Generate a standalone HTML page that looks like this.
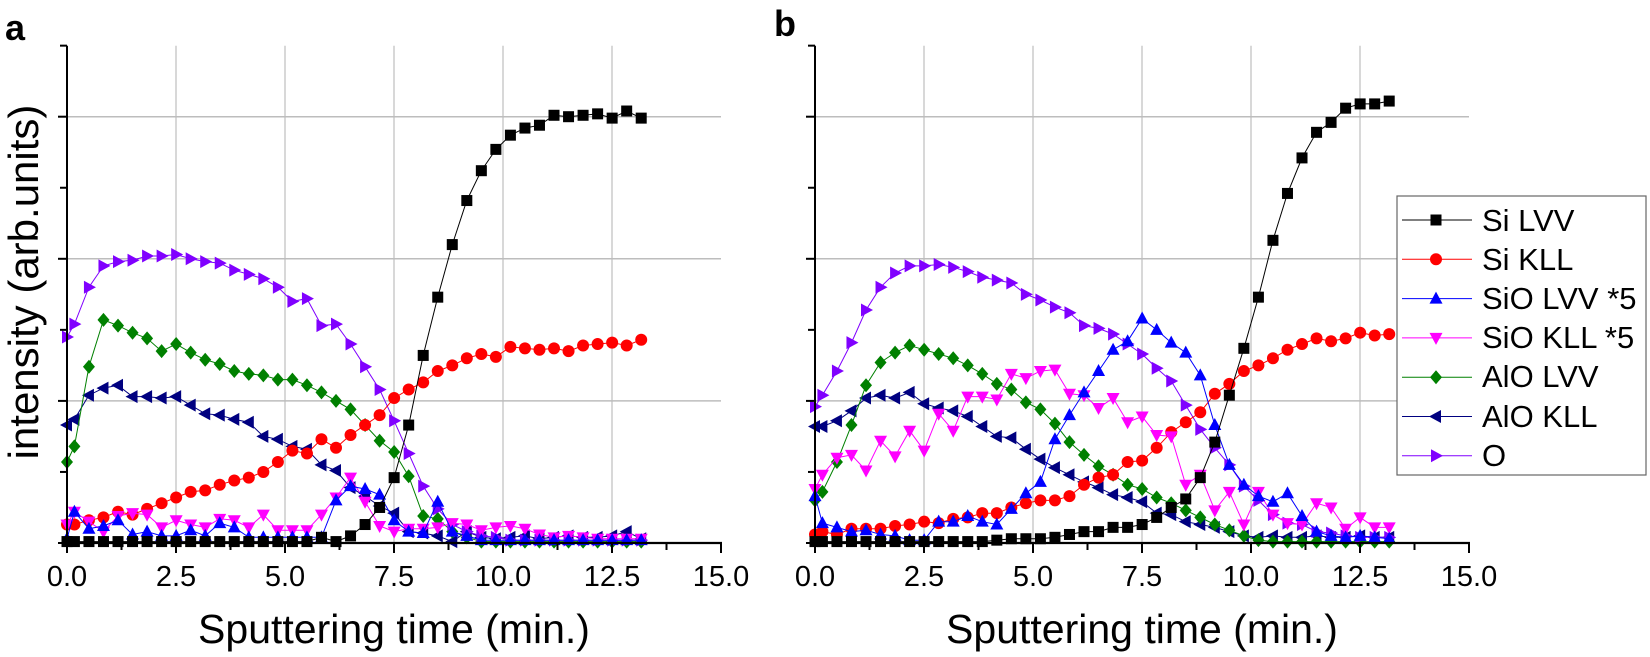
<!DOCTYPE html>
<html><head><meta charset="utf-8"><style>
html,body{margin:0;padding:0;background:#fff;overflow:hidden;}
svg{display:block;font-family:"Liberation Sans",Arial,sans-serif;}
</style></head><body>
<svg id="s" width="1650" height="657" viewBox="0 0 1650 657" xmlns="http://www.w3.org/2000/svg">
<g id="grid"></g>
<g id="data"></g>
<g id="axes"></g>
<text x="5" y="40" font-size="36" font-weight="bold">a</text>
<text x="774" y="36" font-size="36" font-weight="bold">b</text>
<text transform="translate(38,282) rotate(-90)" text-anchor="middle" font-size="42">intensity (arb.units)</text>
<text x="394" y="643" text-anchor="middle" font-size="41">Sputtering time (min.)</text>
<text x="1142" y="643" text-anchor="middle" font-size="41">Sputtering time (min.)</text>
<g font-size="29" text-anchor="middle">
<text x="67" y="586">0.0</text><text x="176" y="586">2.5</text><text x="285" y="586">5.0</text><text x="394" y="586">7.5</text><text x="503" y="586">10.0</text><text x="612" y="586">12.5</text><text x="721" y="586">15.0</text>
<text x="815" y="586">0.0</text><text x="924" y="586">2.5</text><text x="1033" y="586">5.0</text><text x="1142" y="586">7.5</text><text x="1251" y="586">10.0</text><text x="1360" y="586">12.5</text><text x="1469" y="586">15.0</text>
</g>
<g id="legend">
<rect x="1397" y="196" width="249" height="279" fill="#fff" stroke="#666" stroke-width="1.2"/>
<g font-size="31">
<text x="1482" y="231">Si LVV</text>
<text x="1482" y="270">Si KLL</text>
<text x="1482" y="309">SiO LVV *5</text>
<text x="1482" y="348">SiO KLL *5</text>
<text x="1482" y="387">AlO LVV</text>
<text x="1482" y="427">AlO KLL</text>
<text x="1482" y="466">O</text>
</g>
</g>
<g id="legm"></g>
</svg>
<script>
var NS="http://www.w3.org/2000/svg";
function el(p,n,a){var e=document.createElementNS(NS,n);for(var k in a)e.setAttribute(k,a[k]);p.appendChild(e);return e;}
var T=[0];for(var i=0;i<40;i++)T.push(0.17+i/3);
var grid=document.getElementById('grid'),axes=document.getElementById('axes'),data=document.getElementById('data');
function Yv(v){return 543-142.1*v;}
[67,815].forEach(function(x0){
  for(var k=1;k<=5;k++){var x=x0+109*k;el(grid,'line',{x1:x,y1:45.7,x2:x,y2:543,stroke:'#bdbdbd','stroke-width':1.2});}
  for(var k=1;k<=3;k++){var y=Yv(k);el(grid,'line',{x1:x0,y1:y,x2:x0+654,y2:y,stroke:'#bdbdbd','stroke-width':1.5});}
  el(axes,'line',{x1:x0,y1:45.7,x2:x0,y2:544,stroke:'#000','stroke-width':2});
  el(axes,'line',{x1:x0-1,y1:543,x2:x0+655,y2:543,stroke:'#000','stroke-width':2.2});
  for(var k=0;k<=12;k++){var x=x0+54.5*k;el(axes,'line',{x1:x,y1:543,x2:x,y2:k%2?550:553,stroke:'#000','stroke-width':2});}
  for(var k=0;k<=7;k++){var y=543-71.05*k;el(axes,'line',{x1:x0,y1:y,x2:x0-(k%2?7:9),y2:y,stroke:'#000','stroke-width':2});}
});
function marker(g,type,x,y,c){
  if(type=='sq')el(g,'rect',{x:x-5.5,y:y-5.5,width:11,height:11,fill:c});
  else if(type=='ci')el(g,'circle',{cx:x,cy:y,r:6,fill:c});
  else{var p;
    if(type=='up')p=[[x,y-7],[x+6.5,y+5],[x-6.5,y+5]];
    else if(type=='dn')p=[[x,y+7],[x+6.5,y-5],[x-6.5,y-5]];
    else if(type=='lt')p=[[x-7,y],[x+5,y-6.5],[x+5,y+6.5]];
    else if(type=='rt')p=[[x+7,y],[x-5,y-6.5],[x-5,y+6.5]];
    else if(type=='di')p=[[x,y-7],[x+6,y],[x,y+7],[x-6,y]];
    el(g,'polygon',{points:p.map(function(q){return q.join(',')}).join(' '),fill:c});}
}
function z(n,v){var a=[];for(var i=0;i<n;i++)a.push(v);return a;}
var S={
a:{
si:z(18,0.01).concat([0.04,0.01,0.05,0.13,0.25,0.46,0.83,1.32,1.73,2.10,2.41,2.62,2.77,2.87,2.92,2.94,3.01,3.0,3.01,3.02,2.99,3.04,2.99]),
sik:[0.13,0.13,0.16,0.18,0.22,0.2,0.24,0.28,0.32,0.36,0.37,0.41,0.44,0.46,0.5,0.57,0.65,0.63,0.73,0.67,0.76,0.83,0.9,1.02,1.08,1.13,1.21,1.25,1.30,1.33,1.31,1.38,1.37,1.36,1.37,1.35,1.39,1.40,1.41,1.39,1.43],
siol:[0.03,0.22,0.1,0.12,0.16,0.06,0.08,0.05,0.05,0.09,0.05,0.14,0.11,0.04,0.04,0.04,0.04,0.04,0.04,0.3,0.4,0.38,0.34,0.16,0.08,0.07,0.29,0.08,0.05].concat(z(12,0.02)),
siok:[0.13,0.22,0.15,0.08,0.19,0.21,0.2,0.11,0.16,0.13,0.11,0.17,0.16,0.11,0.2,0.09,0.09,0.09,0.2,0.32,0.46,0.29,0.12,0.08,0.1,0.1,0.11,0.14,0.13,0.09,0.11,0.12,0.1,0.06,0.04,0.05,0.04,0.03,0.03,0.03,0.03],
alol:[0.57,0.68,1.24,1.57,1.53,1.48,1.44,1.35,1.40,1.34,1.29,1.26,1.21,1.19,1.18,1.15,1.15,1.11,1.06,1.0,0.94,0.83,0.72,0.64,0.47,0.19,0.17,0.08,0.04].concat(z(12,0.01)),
alok:[0.83,0.87,1.04,1.09,1.11,1.03,1.03,1.02,1.03,0.97,0.91,0.90,0.87,0.85,0.75,0.73,0.68,0.66,0.55,0.51,0.39,0.33,0.26,0.21,0.08,0.07,0.05,0.01,0.08,0.04,0.03,0.04,0.05,0.03,0.04,0.05,0.04,0.04,0.05,0.08,0.03],
o:[1.45,1.54,1.80,1.95,1.98,1.99,2.02,2.02,2.03,2.0,1.98,1.97,1.92,1.89,1.86,1.80,1.70,1.72,1.53,1.54,1.40,1.24,1.08,0.86,0.63,0.40,0.24,0.13,0.08,0.05,0.04].concat(z(10,0.02))
},
b:{
si:z(13,0.01).concat([0.02,0.03,0.03,0.03,0.04,0.06,0.08,0.08,0.11,0.11,0.13,0.18,0.25,0.31,0.46,0.71,1.04,1.37,1.73,2.13,2.46,2.71,2.89,2.96,3.06,3.09,3.09,3.11]),
sik:[0.06,0.08,0.06,0.1,0.1,0.1,0.12,0.13,0.15,0.14,0.17,0.18,0.21,0.21,0.25,0.28,0.30,0.30,0.33,0.41,0.46,0.48,0.57,0.58,0.67,0.78,0.85,0.92,1.05,1.12,1.21,1.25,1.30,1.36,1.40,1.44,1.42,1.44,1.48,1.46,1.47],
siol:[0.33,0.14,0.11,0.08,0.09,0.06,0.05,0.02,0.02,0.15,0.15,0.19,0.15,0.13,0.24,0.35,0.43,0.73,0.9,1.06,1.21,1.36,1.42,1.58,1.50,1.41,1.34,1.18,0.83,0.55,0.41,0.33,0.29,0.35,0.19,0.08,0.05,0.04,0.05,0.04,0.03],
siok:[0.38,0.48,0.6,0.62,0.51,0.72,0.61,0.79,0.65,0.91,0.79,1.03,1.03,1.01,1.19,1.16,1.21,1.22,1.05,1.04,0.95,1.02,0.85,0.89,0.76,0.75,0.41,0.48,0.23,0.36,0.13,0.36,0.2,0.14,0.13,0.28,0.25,0.1,0.18,0.11,0.11],
alol:[0.3,0.36,0.57,0.83,1.11,1.27,1.34,1.39,1.36,1.33,1.30,1.25,1.19,1.12,1.08,0.99,0.94,0.84,0.71,0.62,0.54,0.48,0.41,0.38,0.32,0.28,0.23,0.18,0.13,0.09,0.05,0.02].concat(z(9,0.01)),
alok:[0.82,0.82,0.86,0.93,1.02,1.04,1.02,1.06,0.98,0.95,0.93,0.89,0.82,0.75,0.74,0.66,0.59,0.53,0.48,0.43,0.39,0.34,0.32,0.29,0.21,0.20,0.15,0.13,0.11,0.08,0.05,0.04,0.05,0.04,0.04,0.05,0.04,0.04,0.05,0.04,0.04],
o:[0.96,1.04,1.21,1.41,1.64,1.80,1.90,1.95,1.95,1.96,1.94,1.91,1.87,1.85,1.83,1.75,1.71,1.66,1.62,1.53,1.51,1.47,1.40,1.33,1.23,1.14,0.97,0.80,0.67,0.55,0.40,0.3,0.2,0.14,0.13,0.08,0.07,0.05,0.04,0.04,0.04]
}};
var ST=[['si','sq','#000000'],['sik','ci','#ff0000'],['siol','up','#0000ff'],['siok','dn','#ff00ff'],['alol','di','#008000'],['alok','lt','#000080'],['o','rt','#8000ff']];
var order=['alok','alol','o','sik','siok','siol','si'];
[['a',67],['b',815]].forEach(function(pp){
  var d=S[pp[0]],x0=pp[1];
  order.forEach(function(key){
    var st=ST.filter(function(s){return s[0]==key})[0],arr=d[key];
    var g=el(data,'g',{});
    var pts=arr.map(function(v,i){return [x0+43.6*T[i],Yv(v)];});
    el(g,'polyline',{points:pts.map(function(q){return q[0].toFixed(1)+','+q[1].toFixed(1)}).join(' '),fill:'none',stroke:st[2],'stroke-width':1});
    pts.forEach(function(q){marker(g,st[1],q[0],q[1],st[2]);});
  });
});
var lm=document.getElementById('legm');
ST.forEach(function(s,k){var y=220+39.3*k;
  el(lm,'line',{x1:1402,y1:y,x2:1472,y2:y,stroke:s[2],'stroke-width':1});
  marker(lm,s[1],1436,y,s[2]);});
</script>
</body></html>
